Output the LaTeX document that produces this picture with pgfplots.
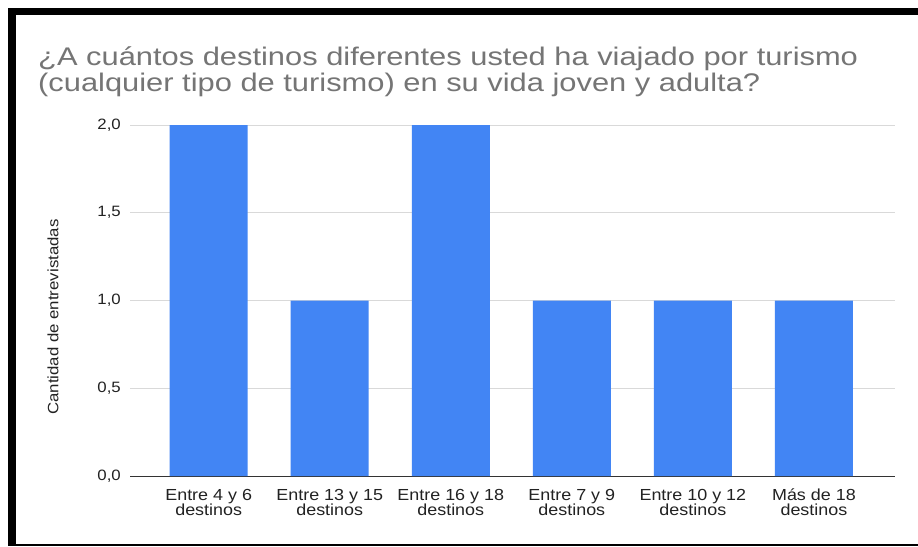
\documentclass[border=0pt]{standalone}
\usepackage{fontspec}
\setmainfont{Liberation Sans}[FakeStretch=1.12]
\newfontfamily\titlefont{Liberation Sans}[FakeStretch=1.21]
\usepackage{pgfplots}
\pgfplotsset{compat=1.18}
\definecolor{barblue}{HTML}{4285F4}
\definecolor{titlegray}{HTML}{757575}
\definecolor{labelgray}{HTML}{222222}
\definecolor{gridgray}{HTML}{D9D9D9}
\definecolor{axisgray}{HTML}{333333}
\newcommand{\up}{\rule{0pt}{12.5pt}}

\begin{document}
\begin{tikzpicture}[x=1pt,y=1pt]
\useasboundingbox (0,0) rectangle (918,-546);
\fill[white] (0,0) rectangle (918,-546);
% frame
\fill[black] (8,-8) rectangle (918,-15);
\fill[black] (8,-8) rectangle (16,-546);
\fill[black] (8,-543.5) rectangle (918,-545.5);
% title, two lines
\node[anchor=base west, text=titlegray, inner sep=0pt,
      font=\titlefont\fontsize{25.5}{26}\selectfont] at (38,-65)
  {¿A cuántos destinos diferentes usted ha viajado por turismo};
\node[anchor=base west, text=titlegray, inner sep=0pt,
      font=\titlefont\fontsize{25.5}{26}\selectfont] at (38,-91)
  {(cualquier tipo de turismo) en su vida joven y adulta?};
% y label
\node[rotate=90, text=labelgray, inner sep=0pt,
      font=\fontsize{15}{15}\selectfont] at (53,-317) {Cantidad de entrevistadas};
\begin{axis}[
    at={(130pt,-476pt)}, anchor=south west,
    scale only axis,
    width=765pt, height=351pt,
    xmin=-0.65, xmax=5.67,
    ymin=0, ymax=2,
    ytick={0,0.5,1,1.5,2},
    xtick={0,1,2,3,4,5},
    xticklabels={{\up Entre 4 y 6\\destinos},{\up Entre 13 y 15\\destinos},{\up Entre 16 y 18\\destinos},{\up Entre 7 y 9\\destinos},{\up Entre 10 y 12\\destinos},{\up Más de 18\\destinos}},
    xticklabel style={align=center, text=labelgray, font=\fontsize{16}{15}\selectfont, anchor=north, inner sep=0pt, yshift=-11.5pt},
    yticklabel style={text=labelgray, font=\fontsize{15}{15}\selectfont, anchor=east, inner sep=0pt, xshift=-9pt},
    /pgf/number format/.cd, fixed, fixed zerofill, precision=1, use comma, assume math mode=true,
    /pgfplots/.cd,
    separate axis lines,
    axis x line*=bottom, axis y line*=left,
    x axis line style={draw=axisgray, line width=1pt, -},
    y axis line style={draw=none},
    major tick length=0pt,
    ymajorgrids, grid style={gridgray, line width=1pt},
    clip=false,
]
\addplot[ybar, bar width=78pt, fill=barblue, draw=none] coordinates {
  (0,2) (1,1) (2,2) (3,1) (4,1) (5,1)
};
\end{axis}
\end{tikzpicture}
\end{document}
